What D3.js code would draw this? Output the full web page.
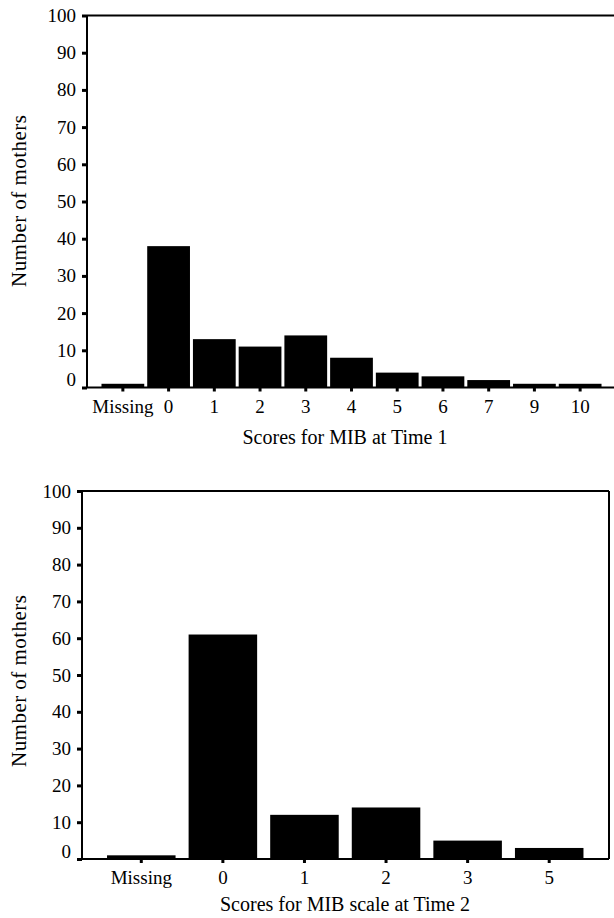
<!DOCTYPE html>
<html>
<head>
<meta charset="utf-8">
<script src="https://d3js.org/d3.v7.min.js"></script>
<style>
body { margin: 0; background: #fff; }
</style>
</head>
<body>
<div id="chart"></div>
<script>
// Time 1
var cats1 = ["Missing", "0", "1", "2", "3", "4", "5", "6", "7", "9", "10"];
var vals1 = [1, 38, 13, 11, 14, 8, 4, 3, 2, 1, 1];
// Time 2
var cats2 = ["Missing", "0", "1", "2", "3", "5"];
var vals2 = [1, 61, 12, 14, 5, 3];
var yTicks = [0, 10, 20, 30, 40, 50, 60, 70, 80, 90, 100];

var serif = "'Liberation Serif', 'Times New Roman', Times, serif";

var svg = d3.select("#chart").append("svg")
  .attr("width", 614).attr("height", 918)
  .style("font-family", serif);

function panel(cats, vals, o) {
  var g = svg.append("g");
  var x = d3.scaleBand().domain(cats).range([o.x0, o.x1]).paddingInner(o.pad).paddingOuter(o.pad / 2);
  var y = d3.scaleLinear().domain([0, 100]).range([o.yb, o.yt]);

  // frame
  g.append("line").attr("x1", o.ax).attr("x2", o.right).attr("y1", y(100)).attr("y2", y(100))
    .attr("stroke", "#000").attr("stroke-width", 2);
  if (o.box) {
    g.append("line").attr("x1", o.right).attr("x2", o.right).attr("y1", y(100)).attr("y2", y(0))
      .attr("stroke", "#000").attr("stroke-width", 2);
  }

  g.selectAll(".bar").data(vals).enter().append("rect")
    .attr("x", (d, i) => x(cats[i]))
    .attr("width", x.bandwidth())
    .attr("y", d => y(d))
    .attr("height", d => y(0) - y(d))
    .attr("fill", "#000");

  // y axis
  var ya = g.append("g").attr("transform", "translate(" + o.ax + ",0)")
    .call(d3.axisLeft(y).tickValues(yTicks).tickSize(5).tickPadding(6));
  ya.attr("font-family", serif);
  ya.select(".domain").attr("stroke-width", 2).attr("d", "M0," + y(0) + "V" + y(100));
  ya.selectAll(".tick line").attr("stroke-width", 3);
  ya.selectAll(".tick text").style("font-size", "19px").style("font-family", serif)
    .attr("dy", d => d === 0 ? "-0.1em" : "0.32em");

  // x axis
  var xa = g.append("g").attr("transform", "translate(0," + y(0) + ")")
    .call(d3.axisBottom(x).tickSize(4).tickPadding(8));
  xa.attr("font-family", serif);
  xa.select(".domain").attr("stroke-width", 2).attr("d", "M" + o.ax + ",0H" + o.right);
  xa.selectAll(".tick line").attr("stroke-width", 3);
  xa.selectAll(".tick text").style("font-size", "19px").style("font-family", serif);

  g.append("text").attr("x", o.tx).attr("y", o.ty).attr("text-anchor", "middle")
    .style("font-size", "20px").style("font-family", serif).text(o.title);
  g.append("text").attr("transform", "translate(26," + o.yc + ") rotate(-90)")
    .attr("text-anchor", "middle").style("font-size", "21px").style("font-family", serif)
    .attr("textLength", 172).attr("lengthAdjust", "spacing")
    .text("Number of mothers");
}

panel(cats1, vals1, { x0: 100, x1: 603, pad: 0.065, ax: 87, right: 620, box: false,
  yt: 15.5, yb: 387.5, yc: 201, tx: 345, ty: 444, title: "Scores for MIB at Time 1" });
panel(cats2, vals2, { x0: 100.5, x1: 590, pad: 0.16, ax: 82, right: 609, box: true,
  yt: 491, yb: 859, yc: 681, tx: 345, ty: 911, title: "Scores for MIB scale at Time 2" });
</script>
</body>
</html>
